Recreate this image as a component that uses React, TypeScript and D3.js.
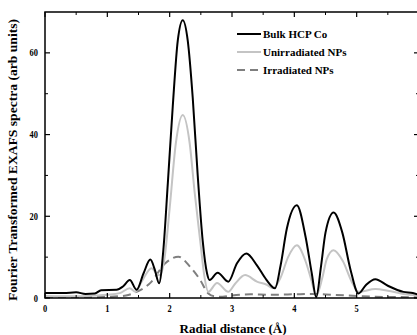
import React from "react";
import * as d3 from "d3";

const bulkX = [0, 0.3, 0.5, 0.65, 0.8, 0.9, 1.15, 1.25, 1.36, 1.47, 1.58, 1.69, 1.76, 1.83, 1.9, 1.97, 2.05, 2.13, 2.21, 2.29, 2.37, 2.45, 2.53, 2.6, 2.64, 2.77, 2.94, 3.08, 3.23, 3.4, 3.55, 3.69, 3.78, 3.88, 4.04, 4.18, 4.28, 4.35, 4.43, 4.5, 4.63, 4.77, 4.9, 5.03, 5.15, 5.3, 5.5, 5.75, 5.9, 6.0];
const bulkY = [1.2, 1.2, 1.4, 1.0, 1.1, 1.9, 2.0, 2.8, 4.4, 2.0, 6, 9.4, 7, 3.6, 12, 28, 47, 63, 68, 63, 49, 30, 14, 6, 4.4, 6.2, 4.0, 8.5, 10.9, 8, 4.5, 2.4, 8, 17, 22.7, 15, 6, 0.2, 8, 16, 20.9, 16, 7, 1.1, 3.2, 4.6, 3, 1.5, 1.2, 0.8];

const unirrX = [0, 0.5, 0.8, 1.0, 1.2, 1.36, 1.45, 1.55, 1.71, 1.8, 1.85, 1.92, 2.0, 2.1, 2.21, 2.32, 2.4, 2.49, 2.56, 2.62, 2.76, 2.94, 3.05, 3.21, 3.4, 3.55, 3.66, 3.78, 3.9, 4.04, 4.18, 4.28, 4.35, 4.45, 4.52, 4.63, 4.78, 4.92, 5.03, 5.3, 5.5, 5.75, 6.0];
const unirrY = [0.5, 0.4, 0.6, 0.8, 1.2, 2.4, 1.5, 4, 7.3, 5.8, 5.6, 10, 22, 38, 44.8, 38, 26, 14, 5, 1.5, 3.7, 1.5, 3.5, 5.6, 4, 3.3, 2.4, 5, 10, 12.9, 9, 4, 0.5, 5, 9.5, 11.7, 9, 4, 1.5, 2.2, 1.8, 1, 0.6];

const irrX = [0, 0.5, 1.0, 1.3, 1.44, 1.69, 1.93, 2.14, 2.33, 2.49, 2.62, 2.72, 2.85, 3.0, 3.3, 3.6, 4.0, 4.3, 4.6, 5.0, 5.3, 6.0];
const irrY = [0.2, 0.2, 0.3, 0.6, 1.3, 3.7, 8.5, 10.1, 7.6, 4.4, 1.1, 0.4, 0.3, 0.6, 0.9, 0.8, 0.9, 1.0, 0.8, 0.5, 0.3, 0.2];

const xMajor = [0, 1, 2, 3, 4, 5];
const xMinor = [0.5, 1.5, 2.5, 3.5, 4.5, 5.5];
const yMajor = [0, 20, 40, 60];
const yMinor = [10, 30, 50];

const seriesNames = ["Bulk HCP Co", "Unirradiated NPs", "Irradiated NPs"];

export default function App() {
  const W = 417, H = 335;
  const L = 45, R = 419, T = 12, B = 298;
  const x = d3.scaleLinear().domain([0, 6]).range([L, R]);
  const y = d3.scaleLinear().domain([0, 70]).range([B, T]);
  const line = (xs: number[], ys: number[]) =>
    d3.line<number>().x((_, i) => x(xs[i])).y((d) => y(d)).curve(d3.curveMonotoneX)(ys) || "";

  const series = [
    { xs: bulkX, ys: bulkY, color: "#000", dash: "" },
    { xs: unirrX, ys: unirrY, color: "#c4c4c4", dash: "" },
    { xs: irrX, ys: irrY, color: "#7f7f7f", dash: "8,5" },
  ];
  const font = "'Liberation Serif', 'Times New Roman', serif";
  const majorLen = 5, minorLen = 3;

  return (
    <svg width={W} height={H} style={{ position: "absolute", left: 0, top: 0, background: "#fff" }} fontFamily={font}>
      <rect x={0} y={0} width={W} height={H} fill="#fff" />
      <defs>
        <clipPath id="plot">
          <rect x={L} y={T} width={R - L} height={B - T} />
        </clipPath>
      </defs>
      <g clipPath="url(#plot)">
        {series.map((s, i) => (
          <path key={i} d={line(s.xs, s.ys)} fill="none" stroke={s.color} strokeWidth={2} strokeDasharray={s.dash || undefined} />
        )).reverse()}
      </g>
      <rect x={L} y={T} width={R - L} height={B - T} fill="none" stroke="#000" strokeWidth={1.5} />
      {xMajor.map((v) => (
        <g key={"xm" + v}>
          <line x1={x(v)} x2={x(v)} y1={B} y2={B - majorLen} stroke="#000" strokeWidth={1.2} />
          <line x1={x(v)} x2={x(v)} y1={T} y2={T + majorLen} stroke="#000" strokeWidth={1.2} />
          <text transform={`translate(${x(v)},312) scale(0.8,1)`} textAnchor="middle" fontSize={10.5} fontWeight="bold">{v}</text>
        </g>
      ))}
      {xMinor.map((v) => (
        <g key={"xn" + v}>
          <line x1={x(v)} x2={x(v)} y1={B} y2={B - minorLen} stroke="#000" strokeWidth={1} />
          <line x1={x(v)} x2={x(v)} y1={T} y2={T + minorLen} stroke="#000" strokeWidth={1} />
        </g>
      ))}
      {yMajor.map((v) => (
        <g key={"ym" + v}>
          <line x1={L} x2={L + majorLen} y1={y(v)} y2={y(v)} stroke="#000" strokeWidth={1.2} />
          <line x1={R} x2={R - majorLen} y1={y(v)} y2={y(v)} stroke="#000" strokeWidth={1.2} />
          <text transform={`translate(${L - 7},${y(v) + 3.5}) scale(0.8,1)`} textAnchor="end" fontSize={10.5} fontWeight="bold">{v}</text>
        </g>
      ))}
      {yMinor.map((v) => (
        <g key={"yn" + v}>
          <line x1={L} x2={L + minorLen} y1={y(v)} y2={y(v)} stroke="#000" strokeWidth={1} />
          <line x1={R} x2={R - minorLen} y1={y(v)} y2={y(v)} stroke="#000" strokeWidth={1} />
        </g>
      ))}
      <text x={233} y={333} textAnchor="middle" fontSize={12.5} fontWeight="bold" textLength={107} lengthAdjust="spacingAndGlyphs">Radial distance (Å)</text>
      <text transform={`translate(17,160) rotate(-90)`} textAnchor="middle" fontSize={12.5} fontWeight="bold" textLength={282} lengthAdjust="spacingAndGlyphs">
        Fourier Transformed EXAFS spectra (arb units)
      </text>
      {series.map((s, i) => (
        <g key={"lg" + i} transform={`translate(0,${34 + i * 18})`}>
          <line x1={237} x2={261} y1={0} y2={0} stroke={s.color} strokeWidth={2} strokeDasharray={s.dash || undefined} />
          <text x={263} y={4} fontSize={11} fontWeight="bold">{seriesNames[i]}</text>
        </g>
      ))}
    </svg>
  );
}
